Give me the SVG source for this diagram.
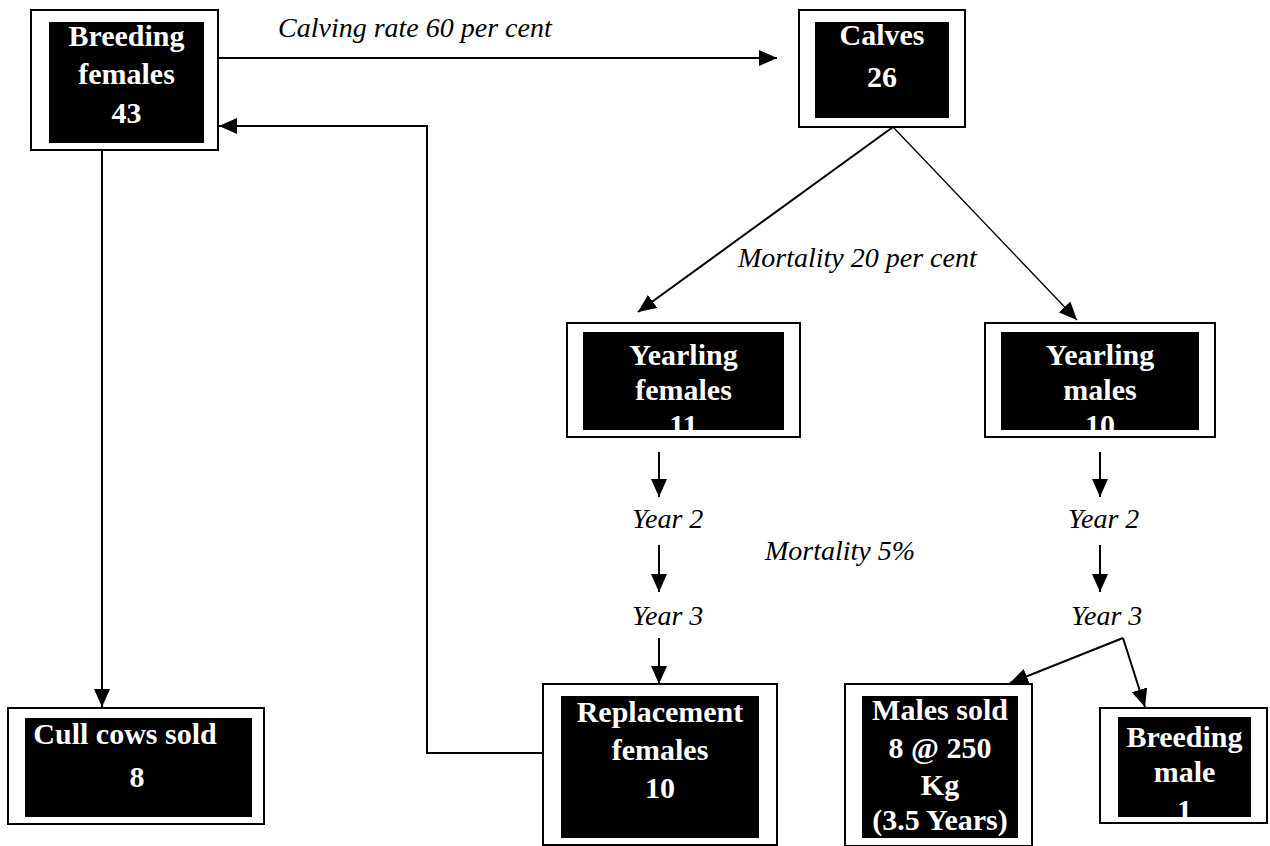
<svg xmlns="http://www.w3.org/2000/svg" width="1270" height="846" viewBox="0 0 1270 846">
<style>
.outer{fill:#fff;stroke:#000;stroke-width:2}
.inner{fill:#000}
.lbl{font-family:"Liberation Serif","Times New Roman",serif;font-weight:bold;font-size:30px;fill:#fff;text-anchor:middle}
.it{font-family:"Liberation Serif","Times New Roman",serif;font-style:italic;font-size:28px;fill:#000}
.ln{fill:none;stroke:#000;stroke-width:2}
</style>
<defs>
<marker id="ah" markerUnits="userSpaceOnUse" markerWidth="18" markerHeight="16" refX="18" refY="8" orient="auto">
<path d="M0,0 L18,8 L0,16 z" fill="#000"/>
</marker>
</defs>
<rect width="1270" height="846" fill="#fff"/>
<g id="connectors">
<line class="ln" x1="218" y1="58" x2="777" y2="58" marker-end="url(#ah)"/>
<polyline class="ln" points="543,753 427,753 427,126 219,126" marker-end="url(#ah)"/>
<line class="ln" x1="102" y1="150" x2="102" y2="707" marker-end="url(#ah)"/>
<line class="ln" x1="893" y1="127" x2="638" y2="312" marker-end="url(#ah)"/>
<line class="ln" x1="893" y1="127" x2="1077" y2="320" style="stroke-width:1.3" marker-end="url(#ah)"/>
<line class="ln" x1="659" y1="452" x2="659" y2="497" marker-end="url(#ah)"/>
<line class="ln" x1="659" y1="545" x2="659" y2="592" marker-end="url(#ah)"/>
<line class="ln" x1="659" y1="638" x2="659" y2="684" marker-end="url(#ah)"/>
<line class="ln" x1="1100" y1="452" x2="1100" y2="497" marker-end="url(#ah)"/>
<line class="ln" x1="1100" y1="545" x2="1100" y2="592" marker-end="url(#ah)"/>
<line class="ln" x1="1123" y1="638" x2="1010" y2="683" marker-end="url(#ah)"/>
<line class="ln" x1="1123" y1="638" x2="1145" y2="707" marker-end="url(#ah)"/>
<text class="it" x="278" y="37">Calving rate 60 per cent</text>
<text class="it" x="738" y="267">Mortality 20 per cent</text>
<text class="it" x="765" y="560">Mortality 5%</text>
<text class="it" x="632" y="528">Year 2</text>
<text class="it" x="632" y="625">Year 3</text>
<text class="it" x="1068" y="528">Year 2</text>
<text class="it" x="1071" y="625">Year 3</text>
</g>
<g id="breeding-females">
<rect class="outer" x="31" y="10" width="187" height="140"/>
<rect class="inner" x="49" y="22" width="155" height="121"/>
<text class="lbl" x="126.5" y="46">Breeding</text>
<text class="lbl" x="126.5" y="84">females</text>
<text class="lbl" x="126.5" y="123">43</text>
</g>
<g id="calves">
<rect class="outer" x="799" y="10" width="166" height="117"/>
<rect class="inner" x="815" y="22" width="134" height="96"/>
<text class="lbl" x="882" y="45">Calves</text>
<text class="lbl" x="882" y="87">26</text>
</g>
<g id="yearling-females">
<rect class="outer" x="567" y="323" width="233" height="114"/>
<rect class="inner" x="583" y="332" width="201" height="98"/>
<text class="lbl" x="683.5" y="365">Yearling</text>
<text class="lbl" x="683.5" y="400">females</text>
<text class="lbl" x="683.5" y="435">11</text>
</g>
<g id="yearling-males">
<rect class="outer" x="985" y="323" width="230" height="114"/>
<rect class="inner" x="1001" y="332" width="198" height="98"/>
<text class="lbl" x="1100" y="365">Yearling</text>
<text class="lbl" x="1100" y="400">males</text>
<text class="lbl" x="1100" y="435">10</text>
</g>
<g id="cull-cows-sold">
<rect class="outer" x="8" y="708" width="256" height="116"/>
<rect class="inner" x="25" y="718" width="227" height="99"/>
<text class="lbl" x="125" y="744">Cull cows sold</text>
<text class="lbl" x="137" y="787">8</text>
</g>
<g id="replacement-females">
<rect class="outer" x="543" y="684" width="234" height="161"/>
<rect class="inner" x="561" y="696" width="198" height="142"/>
<text class="lbl" x="660" y="722">Replacement</text>
<text class="lbl" x="660" y="760">females</text>
<text class="lbl" x="660" y="798">10</text>
</g>
<g id="males-sold">
<rect class="outer" x="845" y="684" width="187" height="162"/>
<rect class="inner" x="862" y="696" width="156" height="142"/>
<text class="lbl" x="940" y="720">Males sold</text>
<text class="lbl" x="940" y="758">8 @ 250</text>
<text class="lbl" x="940" y="795">Kg</text>
<text class="lbl" x="940" y="830">(3.5 Years)</text>
</g>
<g id="breeding-male">
<rect class="outer" x="1100" y="708" width="167" height="115"/>
<rect class="inner" x="1118" y="717" width="133" height="100"/>
<text class="lbl" x="1184.5" y="747">Breeding</text>
<text class="lbl" x="1184.5" y="782">male</text>
<text class="lbl" x="1184.5" y="820">1</text>
</g>
</svg>
